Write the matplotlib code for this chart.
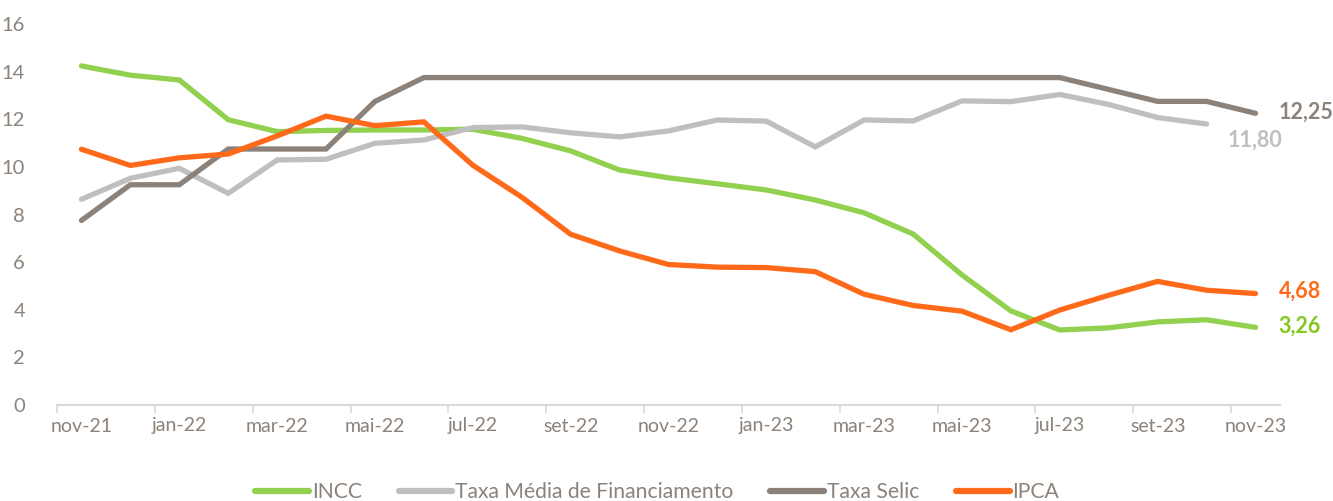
import matplotlib
matplotlib.use("Agg")
import matplotlib.pyplot as plt
from matplotlib.lines import Line2D

months = ["nov-21", "dez-21", "jan-22", "fev-22", "mar-22", "abr-22", "mai-22", "jun-22",
          "jul-22", "ago-22", "set-22", "out-22", "nov-22", "dez-22", "jan-23", "fev-23",
          "mar-23", "abr-23", "mai-23", "jun-23", "jul-23", "ago-23", "set-23", "out-23", "nov-23"]

incc = [14.24, 13.85, 13.65, 11.98, 11.48, 11.53, 11.55, 11.55, 11.58, 11.20, 10.67, 9.87,
        9.54, 9.29, 9.03, 8.61, 8.07, 7.18, 5.46, 3.95, 3.15, 3.24, 3.49, 3.58, 3.26]
taxa_media = [8.64, 9.52, 9.94, 8.89, 10.29, 10.32, 10.99, 11.13, 11.65, 11.68, 11.43, 11.26,
              11.51, 11.97, 11.92, 10.84, 11.97, 11.93, 12.77, 12.74, 13.04, 12.62, 12.07, 11.80]
selic = [7.75, 9.25, 9.25, 10.75, 10.75, 10.75, 12.75, 13.75, 13.75, 13.75, 13.75, 13.75,
         13.75, 13.75, 13.75, 13.75, 13.75, 13.75, 13.75, 13.75, 13.75, 13.25, 12.75, 12.75, 12.25]
ipca = [10.74, 10.06, 10.38, 10.54, 11.30, 12.13, 11.73, 11.89, 10.07, 8.73, 7.17, 6.47,
        5.90, 5.79, 5.77, 5.60, 4.65, 4.18, 3.94, 3.16, 3.99, 4.61, 5.19, 4.82, 4.68]

series_names = ["INCC", "Taxa Média de Financiamento", "Taxa Selic", "IPCA"]
line_colors = ["#92D050", "#BFBFBF", "#8C8279", "#FF6A1A"]
label_colors = ["#84C81E", "#BFBFBF", "#8C8279", "#FF6A1A"]
end_labels = ["3,26", "11,80", "12,25", "4,68"]

plt.rcParams['font.family'] = ['Lato', 'DejaVu Sans']
text_color = "#8C8279"

fig = plt.figure(figsize=(13.33, 5.01), dpi=100)
ax = fig.add_axes([57/1333, 96/501, 1223/1333, 381/501])

x = list(range(len(months)))
data = [incc, taxa_media, selic, ipca]
for vals, col in zip(data, line_colors):
    ax.plot(x[:len(vals)], vals, color=col, lw=3.8, solid_capstyle='round',
            solid_joinstyle='miter')

ax.set_xlim(-0.5, len(months) - 0.5)
ax.set_ylim(0, 16)
ax.set_yticks(range(0, 17, 2))
ax.tick_params(axis='y', length=0, pad=23, labelsize=14.5, labelcolor=text_color)

ax.set_xticks([i - 0.5 for i in range(0, len(months), 2)])
ax.set_xticklabels([])
ax.set_xticks(list(range(0, len(months), 2)), minor=True)
ax.set_xticklabels([months[i] for i in range(0, len(months), 2)], minor=True)
ax.tick_params(axis='x', which='major', length=6, width=1.2, color="#D9D9D9", direction='out')
ax.tick_params(axis='x', which='minor', length=0, pad=9, labelsize=14, labelcolor=text_color)

for s in ['top', 'right', 'left']:
    ax.spines[s].set_visible(False)
ax.spines['bottom'].set_color("#D9D9D9")
ax.spines['bottom'].set_linewidth(1.5)

# end labels
offsets = {0: (0.47, 0.03), 1: (0.43, -0.7), 2: (0.47, 0.05), 3: (0.47, 0.1)}
for k, (vals, lab, col) in enumerate(zip(data, end_labels, label_colors)):
    xi = len(vals) - 1
    dx, dy = offsets[k]
    ax.text(xi + dx, vals[-1] + dy, lab, color=col, fontsize=15.5, fontweight='bold',
            ha='left', va='center', clip_on=False)

handles = [Line2D([0], [0], color=c, lw=4.5, solid_capstyle='round') for c in line_colors]
leg = fig.legend(handles, series_names, loc='center', bbox_to_anchor=(0.493, 9/501),
                 ncol=4, frameon=False, fontsize=15.2, handlelength=2.55, handletextpad=0.12,
                 columnspacing=1.75, labelcolor=text_color)

fig.savefig("out.png", dpi=100)
